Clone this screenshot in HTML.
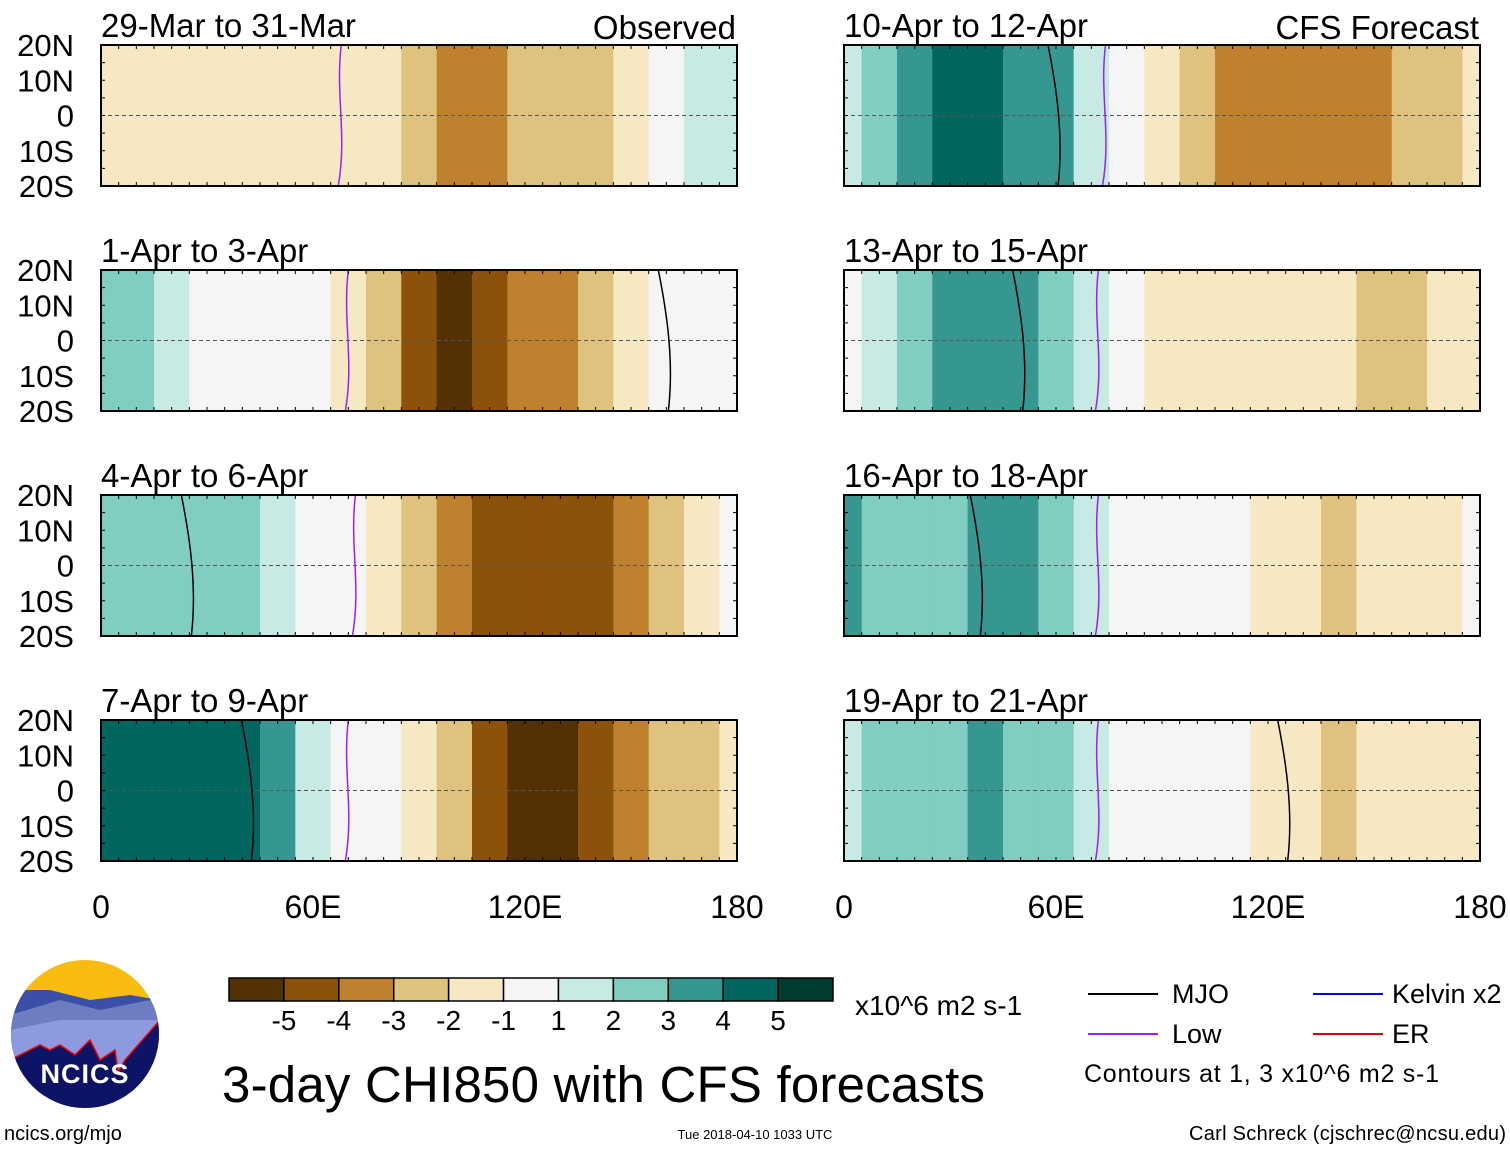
<!DOCTYPE html>
<html><head><meta charset="utf-8">
<style>
html,body{margin:0;padding:0;background:#fff;}
svg{display:block;font-family:"Liberation Sans",sans-serif;}
</style></head>
<body>
<svg id="chart" width="1510" height="1149" viewBox="0 0 1510 1149" xmlns="http://www.w3.org/2000/svg">
<g id="maps"></g>

<g id="cbar"></g>
<text x="855" y="1015" font-size="28">x10^6 m2 s-1</text>
<text x="222" y="1102" font-size="51" textLength="763">3-day CHI850 with CFS forecasts</text>

<g font-size="27">
  <line x1="1088" y1="994" x2="1158" y2="994" stroke="#000" stroke-width="2"/>
  <text x="1172" y="1003">MJO</text>
  <line x1="1313" y1="994" x2="1383" y2="994" stroke="#0000ee" stroke-width="2"/>
  <text x="1392" y="1003">Kelvin x2</text>
  <line x1="1088" y1="1034" x2="1158" y2="1034" stroke="#a020f0" stroke-width="2"/>
  <text x="1172" y="1043">Low</text>
  <line x1="1313" y1="1034" x2="1383" y2="1034" stroke="#e00000" stroke-width="2"/>
  <text x="1392" y="1043">ER</text>
  <text x="1084" y="1082" font-size="25" textLength="355">Contours at 1, 3 x10^6 m2 s-1</text>
</g>

<g>
  <defs><clipPath id="lc"><circle cx="85" cy="1034" r="74"/></clipPath></defs>
  <g clip-path="url(#lc)">
    <rect x="10" y="958" width="150" height="152" fill="#f8bb10"/>
    <polygon points="10,990 50,990 90,1000 130,995 160,1000 160,1110 10,1110" fill="#3b4fa8"/>
    <polygon points="10,1015 60,1000 100,1010 160,998 160,1110 10,1110" fill="#6e7cc2"/>
    <polygon points="10,1030 60,1020 120,1020 160,1020 160,1110 10,1110" fill="#8e9ae0"/>
    <polygon points="10,1060 40,1045 50,1050 60,1045 75,1055 90,1040 100,1060 115,1050 118,1072 125,1060 160,1020 160,1110 10,1110" fill="#0d1466" stroke="#e00" stroke-width="1.5"/>
  </g>
  <text x="85" y="1083" font-size="27" font-weight="bold" fill="#fff" text-anchor="middle" letter-spacing="1">NCICS</text>
</g>
<text x="4" y="1140" font-size="20">ncics.org/mjo</text>
<text x="755" y="1139" font-size="13" text-anchor="middle">Tue 2018-04-10 1033 UTC</text>
<text x="1506" y="1140" font-size="20" text-anchor="end" textLength="317">Carl Schreck (cjschrec@ncsu.edu)</text>
</svg>
<script>
// ---- data ----
const lons = [0,10,20,30,40,50,60,70,80,90,100,110,120,130,140,150,160,170,180];
const panelTitles = ["29-Mar to 31-Mar","1-Apr to 3-Apr","4-Apr to 6-Apr","7-Apr to 9-Apr","10-Apr to 12-Apr","13-Apr to 15-Apr","16-Apr to 18-Apr","19-Apr to 21-Apr"];
const chiP1 = [-1.5,-2,-1.5,-1.5,-1.5,-1.5,-2,-1.5,-2,-2.5,-3.5,-3.5,-3,-2.5,-2.5,-1.5,0.5,1.5,1.5];
const chiP2 = [2,2.5,1.5,0.5,0,0,-0.5,-2,-3,-4.5,-5.5,-5,-4,-4,-3,-1.5,-0.5,0,0.5];
const chiP3 = [2,2.5,2.5,2.5,2,1.5,0.5,-1,-1.5,-2.5,-3.5,-4.5,-5,-5,-5,-4,-3,-2,-1];
const chiP4 = [4,4,4.5,4.5,4,3,1.5,0.5,-0.5,-1.5,-3,-4.5,-5.5,-5.5,-5,-4,-3,-2.5,-2];
const chiP5 = [1,2,3.5,4.5,4.5,3.5,3.5,1,-0.5,-1.5,-2.5,-3.5,-3.5,-4,-3.5,-3.5,-3,-2.5,-2];
const chiP6 = [0.5,1,2,3,3.5,3,2,1,-0.5,-1.5,-1.5,-1.5,-1.5,-2,-2,-2.5,-2.5,-2,-1.5];
const chiP7 = [3,2,2,2.5,3,3,2,1,0.5,0,0,-0.5,-1.5,-2,-2.5,-2,-2,-1.5,0.5];
const chiP8 = [1.5,2,2,2.5,3,2.5,2,1,0,0,0,-0.5,-1.5,-2,-2.5,-2,-2,-1.5,-1.5];
const lowLon = [68,70,72,70,74,72,72,72];
const mjoLon = [null,160,25,42,60,50,38,125];
const levels = [-5,-4,-3,-2,-1,1,2,3,4,5];
const cbarLabels = ["-5","-4","-3","-2","-1","1","2","3","4","5"];
const latLabels = ["20N","10N","0","10S","20S"];
const lonLabels = ["0","60E","120E","180"];
const lonTicks = [0,60,120,180];
// ---- style ----
const colors = ["#543005","#8c510a","#bf812d","#dfc27d","#f6e8c3","#f5f5f5","#c7eae5","#80cdc1","#35978f","#01665e","#003c30"];
const NS="http://www.w3.org/2000/svg";
const allChi=[chiP1,chiP2,chiP3,chiP4,chiP5,chiP6,chiP7,chiP8];
const colX0=[101,844], W=636, rowY=[45,270,495,720], H=141;
function colorFor(v){let i=0;while(i<levels.length&&v>=levels[i])i++;return colors[i];}
function mk(tag,attrs,parent){const e=document.createElementNS(NS,tag);for(const k in attrs)e.setAttribute(k,attrs[k]);parent.appendChild(e);return e;}
const maps=document.getElementById('maps');
for(let p=0;p<8;p++){
  const col=p<4?0:1,row=p%4;
  const x0=colX0[col],y0=rowY[row];
  const xs=lon=>x0+lon/180*W;
  const g=mk('g',{},maps);
  
  
  const d=allChi[p];
  for(let i=0;i<lons.length;i++){
    const a=Math.max(0,lons[i]-5),b=Math.min(180,lons[i]+5);
    const r=mk('rect',{x:xs(a),y:y0,width:xs(b)-xs(a)+0.6,height:H,fill:colorFor(d[i])},g);
    
    
  }
  mk('line',{x1:x0,x2:x0+W,y1:y0+H/2,y2:y0+H/2,stroke:'#555','stroke-dasharray':'4,3','stroke-width':1},g);
  const lx=xs(lowLon[p]);
  const lp=mk('path',{d:`M${lx} ${y0} C${lx-6} ${y0+50},${lx+6} ${y0+90},${lx-3} ${y0+H}`,stroke:'#a020f0',fill:'none','stroke-width':1.5},g);
  
  
  if(mjoLon[p]!==null){const mx=xs(mjoLon[p]);
    const mp=mk('path',{d:`M${mx-8} ${y0} C${mx} ${y0+40},${mx+8} ${y0+90},${mx+2} ${y0+H}`,stroke:'#000',fill:'none','stroke-width':1.5},g);
    
    }
  mk('rect',{x:x0,y:y0,width:W,height:H,fill:'none',stroke:'#000','stroke-width':2},g);
  for(let t=0;t<=36;t++){const tx=x0+t*W/36;mk('line',{x1:tx,x2:tx,y1:y0,y2:y0+4,stroke:'#000'},g);mk('line',{x1:tx,x2:tx,y1:y0+H,y2:y0+H-4,stroke:'#000'},g);}
  for(let t=0;t<=8;t++){const ty=y0+t*H/8;mk('line',{x1:x0,x2:x0+4,y1:ty,y2:ty,stroke:'#000'},g);mk('line',{x1:x0+W,x2:x0+W-4,y1:ty,y2:ty,stroke:'#000'},g);}
  const tt=mk('text',{x:x0,y:y0-8,'font-size':33},g);tt.textContent=panelTitles[p];
  
  
  if(col===0){for(let k=0;k<5;k++){const t=mk('text',{x:74,y:y0+k*H/4+11,'font-size':31,'text-anchor':'end'},g);t.textContent=latLabels[k];
    
    }}
  if(row===0){const t=mk('text',{x:x0+W-1,y:y0-6,'font-size':33,'text-anchor':'end'},g);t.textContent=col===0?"Observed":"CFS Forecast";
    
    }
  if(row===3){for(let k=0;k<4;k++){const t=mk('text',{x:xs(lonTicks[k]),y:918,'font-size':32,'text-anchor':'middle'},g);t.textContent=lonLabels[k];
    
    }}
}
const cb=document.getElementById('cbar');
const bw=(833-229)/11;
for(let i=0;i<11;i++){const r=mk('rect',{x:229+i*bw,y:978,width:bw,height:23,fill:colors[i],stroke:'#000','stroke-width':1.5},cb);
  
  }
for(let i=0;i<10;i++){const t=mk('text',{x:229+(i+1)*bw,y:1030,'font-size':28,'text-anchor':'middle'},cb);t.textContent=cbarLabels[i];
  
  }
</script>
</body></html>
